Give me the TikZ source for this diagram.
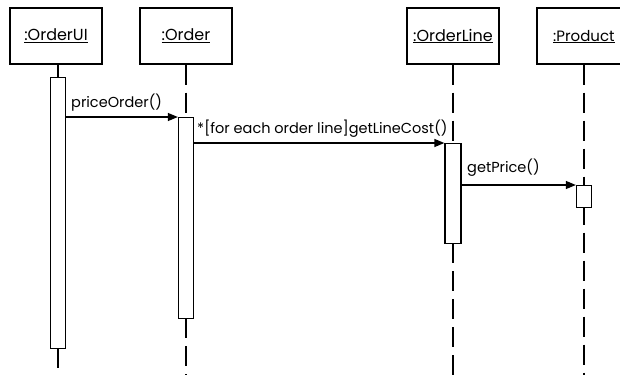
\documentclass[tikz,border=0pt]{standalone}
\usepackage{fontspec}
\setmainfont{Poppins}
\usetikzlibrary{arrows.meta}
\begin{document}
\begin{tikzpicture}[x=1pt,y=-1pt,
  every node/.style={inner sep=0pt},
  objbox/.style={draw,line width=1.3pt,minimum width=92pt,minimum height=56pt,font=\fontsize{16}{18}\selectfont},
  act/.style={draw,fill=white,line width=1.3pt},
  life/.style={line width=1.3pt,dash pattern=on 20pt off 8pt},
  msg/.style={line width=1.3pt,-{Triangle[length=10pt,width=8pt]}},
  lbl/.style={font=\fontsize{14.5}{16}\selectfont,anchor=base west}]
\clip (0,0) rectangle (620,375);
\fill[white] (0,0) rectangle (620,375);
% object boxes
\node[objbox] (ui) at (56,36) {\underline{:OrderUI}};
\node[objbox] (or) at (186,36) {\underline{:Order}};
\node[objbox] (ol) at (453,36) {\underline{:OrderLine}};
\node[objbox,minimum width=94pt] (pr) at (584,36) {};
\node[font=\fontsize{15}{18}\selectfont,anchor=base west] (prt) at (553,41) {\underline{:Product}};
% lifeline coordinates
\coordinate (uiT) at (58,77);
\coordinate (uiB) at (58,348);
\coordinate (uiE) at (58,375);
\coordinate (orT) at (186,117);
\coordinate (orB) at (186,318);
\coordinate (orE) at (186,375);
\coordinate (olT) at (453,143);
\coordinate (olB) at (453,243);
\coordinate (olE) at (453,375);
\coordinate (prE) at (584,375);
\draw[line width=1.3pt] (ui.south -| uiT) -- (uiT);
\draw[life] (uiB) -- (uiE);
\draw[life] (or.south) -- (orT);
\draw[life] (orB) -- (orE);
\draw[life] (ol.south) -- (olT);
\draw[life] (olB) -- (olE);
\draw[life] (pr.south -| prE) -- (prE);
% activations
\node[act,minimum width=15pt,minimum height=271pt,anchor=north] (aui) at (uiT) {};
\node[act,minimum width=15pt,minimum height=201pt,anchor=north] (aor) at (orT) {};
\node[act,minimum width=16pt,minimum height=100pt,anchor=north] (aol) at (olT) {};
\node[act,minimum width=15pt,minimum height=22pt,anchor=north] (apr) at (584,185) {};
% messages
\draw[msg] (aui.east |- 0,117) -- (aor.north west);
\draw[msg] (aor.east |- 0,143) -- (aol.north west);
\draw[msg] (aol.east |- 0,185) -- (apr.north west);
\node[lbl] (l1) at (71,107) {priceOrder()};
\node[lbl] (l2) at (197,133) {*[for each order line]getLineCost()};
\node[lbl] (l3) at (467,172) {getPrice()};
\end{tikzpicture}
\end{document}
